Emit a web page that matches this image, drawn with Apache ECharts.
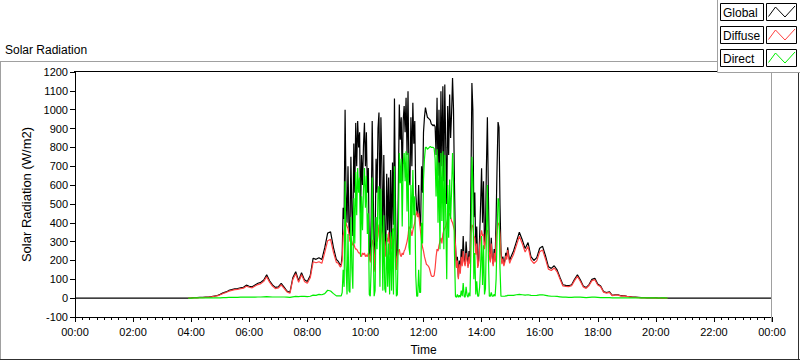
<!DOCTYPE html>
<html><head><meta charset="utf-8">
<script src="https://cdn.jsdelivr.net/npm/echarts@6/dist/echarts.min.js"></script>
<style>html,body{margin:0;padding:0;background:#fff;overflow:hidden;}#c{width:800px;height:361px;}</style>
</head><body><div id="c"></div>
<script>
// ---- night (global only = 0) ----
const nightStartTimes = ["00:00", "03:54"];
const nightStartGlobal = [0, 0];
const nightStartDiffuse = [null, 0];
const nightStartDirect = [null, 0];

// ---- morning, 6-minute samples ----
const morningTimes = ["04:00","04:06","04:12","04:18","04:24","04:30","04:36","04:42","04:48","04:54",
  "05:00","05:06","05:12","05:18","05:24","05:30","05:36","05:42","05:48","05:54",
  "06:00","06:06","06:12","06:18","06:24","06:30","06:36","06:42","06:48","06:54",
  "07:00","07:06","07:12","07:18","07:24","07:30","07:36","07:42","07:48","07:54",
  "08:00","08:06","08:12","08:18","08:24","08:30","08:36","08:42","08:48","08:54","09:00"];
const morningGlobal = [1,3,3,4,4,5,6,8,11,14, 20,28,33,41,45,49,51,55,58,69, 63,60,70,79,84,96,124,92,70,57,
  60,78,58,38,30,108,140,92,135,98, 88,120,212,206,214,205,268,345,352,268,205];
const morningDiffuse = [1,2,2,3,3,4,5,7,10,12, 18,25,30,37,41,45,47,50,53,63, 58,55,64,72,77,89,114,85,64,51,
  54,71,52,33,26,99,130,84,124,89, 79,108,193,188,193,185,243,305,312,243,190];
const morningDirect = [0,1,1,1,1,1,1,1,1,2, 2,3,3,4,4,4,4,5,5,5, 5,5,5,6,6,7,8,7,6,6,
  6,6,6,5,4,7,9,8,10,9, 8,10,16,15,20,18,24,42,38,24,12];

// ---- midday, 2-minute samples (09:04 .. 15:00) ----
const middayTimes = ["09:04","09:06","09:08","09:10","09:12","09:14","09:16","09:18","09:20","09:22",
  "09:24","09:26","09:28","09:30","09:32","09:34","09:36","09:38","09:40","09:42",
  "09:44","09:46","09:48","09:50","09:52","09:54","09:56","09:58","10:00","10:02",
  "10:04","10:06","10:08","10:10","10:12","10:14","10:16","10:18","10:20","10:22",
  "10:24","10:26","10:28","10:30","10:32","10:34","10:36","10:38","10:40","10:42",
  "10:44","10:46","10:48","10:50","10:52","10:54","10:56","10:58","11:00","11:02",
  "11:04","11:06","11:08","11:10","11:12","11:14","11:16","11:18","11:20","11:22",
  "11:24","11:26","11:28","11:30","11:32","11:34","11:36","11:38","11:40","11:42",
  "11:44","11:46","11:48","11:50","11:52","11:54","11:56","11:58","12:00","12:02",
  "12:04","12:06","12:08","12:10","12:12","12:14","12:16","12:18","12:20","12:22",
  "12:24","12:26","12:28","12:30","12:32","12:34","12:36","12:38","12:40","12:42",
  "12:44","12:46","12:48","12:50","12:52","12:54","12:56","12:58","13:00","13:02",
  "13:04","13:06","13:08","13:10","13:12","13:14","13:16","13:18","13:20","13:22",
  "13:24","13:26","13:28","13:30","13:32","13:34","13:36","13:38","13:40","13:42",
  "13:44","13:46","13:48","13:50","13:52","13:54","13:56","13:58","14:00","14:02",
  "14:04","14:06","14:08","14:10","14:12","14:14","14:16","14:18","14:20","14:22",
  "14:24","14:26","14:28","14:30","14:32","14:34","14:36","14:38","14:40","14:42",
  "14:44","14:46","14:48","14:50","14:52","14:54","14:56","14:58","15:00"];
const middayGlobal = [195,185,175,180,230,480,420,1000,560,400,
  700,380,330,750,460,330,820,560,930,700,
  940,800,880,450,760,600,810,930,700,880,
  560,690,250,200,430,940,600,150,300,740,
  560,900,985,420,960,700,300,760,350,250,
  660,360,640,250,680,300,720,390,1060,520,
  160,240,580,1028,840,960,620,940,1019,880,
  1063,760,1098,650,600,960,700,1037,820,940,
  560,470,440,600,430,380,700,560,880,960,
  1011,985,960,955,950,945,925,920,915,920,
  910,760,1063,650,1000,560,1098,700,1124,620,
  1133,800,500,1019,760,1081,850,980,1168,1000,
  600,289,167,220,110,200,140,260,180,330,
  200,180,300,220,170,250,190,600,1141,1000,
  430,560,250,380,170,200,330,500,689,400,
  620,280,350,700,960,560,250,200,320,220,
  180,260,200,420,700,934,906,500,250,190,
  220,180,200,240,220,270,230,200,215];
const middayDiffuse = [185,175,165,170,200,330,360,380,400,380,
  370,340,300,320,300,280,290,270,260,260,
  250,240,240,230,220,240,230,240,220,230,
  220,240,230,190,260,300,310,140,260,310,
  300,330,390,360,380,340,260,320,300,220,
  320,300,350,230,330,260,350,370,360,300,
  150,220,250,260,230,220,240,230,250,260,
  280,300,330,380,370,360,330,360,380,400,
  440,460,430,450,400,350,300,270,250,220,
  200,180,175,170,160,140,120,115,115,120,
  160,220,260,250,280,300,320,290,340,360,
  370,380,400,420,440,450,430,410,400,380,
  360,280,160,200,100,180,130,220,170,250,
  190,170,240,200,160,220,180,350,390,380,
  330,320,230,290,160,190,270,330,360,330,
  340,260,300,360,360,330,240,190,290,210,
  170,240,190,320,370,400,390,340,240,180,
  210,170,190,225,205,255,215,185,200];
const middayDirect = [12,12,12,12,30,150,60,620,170,20,
  340,40,30,430,160,50,530,290,670,440,
  690,560,640,220,540,360,580,690,480,650,
  340,450,20,10,170,640,290,10,40,430,
  260,570,595,60,580,360,40,440,50,30,
  340,60,290,20,350,40,370,20,700,220,
  10,20,330,770,610,740,380,710,770,620,
  780,460,770,270,230,600,370,680,440,540,
  120,10,10,150,30,30,400,290,630,740,
  800,800,790,795,800,805,800,800,800,795,
  740,540,790,400,720,260,770,410,780,260,
  760,420,100,600,320,630,420,570,770,620,
  240,10,5,20,5,15,5,40,10,80,
  10,5,60,15,5,30,10,250,750,620,
  100,240,20,90,10,10,60,170,330,70,
  280,20,50,340,600,230,10,10,30,10,
  10,20,10,100,330,530,510,160,10,10,
  10,10,10,12,12,15,15,15,15];

// ---- afternoon, 6-minute samples ----
const eveningTimes = ["15:06","15:12","15:18","15:24","15:30","15:36","15:42","15:48","15:54",
  "16:00","16:06","16:12","16:18","16:24","16:30","16:36","16:42","16:48","16:54",
  "17:00","17:06","17:12","17:18","17:24","17:30","17:36","17:42","17:48","17:54",
  "18:00","18:06","18:12","18:18","18:24","18:30","18:36","18:42","18:48","18:54",
  "19:00","19:06","19:12","19:18","19:24","19:30","19:36","19:42","19:48","19:54",
  "20:00","20:06","20:12","20:18","20:24"];
const eveningGlobal = [250,300,350,310,263,295,220,200,215,
  265,275,225,167,158,172,150,110,71,68,
  66,71,100,124,97,65,56,72,100,105,
  75,64,35,30,34,15,18,18,13,14,
  10,8,6,5,4,3,3,2,2,1,
  1,0,0,0,0];
const eveningDiffuse = [232,280,328,290,245,275,203,184,198,
  246,255,208,154,147,160,140,102,65,62,
  61,66,93,116,90,60,52,67,93,98,
  70,60,32,27,31,13,16,16,11,12,
  9,7,5,4,3,2,2,2,1,1,
  0,0,0,0,0];
const eveningDirect = [15,18,20,18,16,18,15,14,15,
  17,18,15,12,10,10,9,7,5,5,
  4,4,5,6,5,4,3,4,5,5,
  4,3,3,3,3,2,2,2,2,2,
  1,1,1,1,1,1,1,1,1,1,
  1,0,2,1,0];

// ---- night end ----
const nightEndTimes = ["24:00"];
const nightEndGlobal = [0];

// axis ticks
const yMin = -100, yMax = 1200, yStep = 100;
const xMinMinutes = 0, xMaxMinutes = 1440, xStepMinutes = 120;

function toMin(t) { const p = t.split(":"); return (+p[0]) * 60 + (+p[1]); }
function pairs(ts, vals) {
  const out = [];
  ts.forEach((t, k) => { if (vals[k] !== null && vals[k] !== undefined) out.push([toMin(t), vals[k]]); });
  return out;
}
function pad(n) { return (n < 10 ? "0" : "") + n; }

const globalData = [].concat(
  pairs(nightStartTimes, nightStartGlobal), pairs(morningTimes, morningGlobal),
  pairs(middayTimes, middayGlobal), pairs(eveningTimes, eveningGlobal), pairs(nightEndTimes, nightEndGlobal));
const diffuseData = [].concat(
  pairs(nightStartTimes, nightStartDiffuse), pairs(morningTimes, morningDiffuse),
  pairs(middayTimes, middayDiffuse), pairs(eveningTimes, eveningDiffuse));
const directData = [].concat(
  pairs(nightStartTimes, nightStartDirect), pairs(morningTimes, morningDirect),
  pairs(middayTimes, middayDirect), pairs(eveningTimes, eveningDirect));

const FONT = "Liberation Sans";
const BLACK = "#000000", RED = "#ff4040", GREEN = "#00ee00";

const chart = echarts.init(document.getElementById("c"), null, { renderer: "svg", width: 800, height: 361 });

function legendRow(y, label, color) {
  return [
    { type: "rect", shape: { x: 720.5, y: y + 0.5, width: 43, height: 17 }, style: { fill: "#fff", stroke: "#000", lineWidth: 1 }, z: 20 },
    { type: "text", style: { x: 723, y: y + 9.5, text: label, fontSize: 12, fontFamily: FONT, fill: "#000", textVerticalAlign: "middle" }, z: 21 },
    { type: "rect", shape: { x: 766.5, y: y + 0.5, width: 30, height: 17 }, style: { fill: "#fff", stroke: "#000", lineWidth: 1 }, z: 20 },
    { type: "polyline", shape: { points: [[768.5, y + 13.5], [775.5, y + 4], [785, y + 14], [795, y + 3]] }, style: { stroke: color, lineWidth: 1, fill: null }, z: 21 }
  ];
}

chart.setOption({
  animation: false,
  backgroundColor: "#ffffff",
  textStyle: { fontFamily: FONT },
  grid: { left: 75, top: 72, width: 697, height: 250, containLabel: false },
  xAxis: {
    type: "value", min: xMinMinutes, max: xMaxMinutes, interval: xStepMinutes,
    name: "Time", nameLocation: "middle", nameGap: 27,
    nameTextStyle: { fontSize: 12, color: "#000", fontFamily: FONT },
    axisLine: { show: true, onZero: false, lineStyle: { color: "#000", width: 1 } },
    axisTick: { show: true, inside: false, length: 5, lineStyle: { color: "#000" } },
    minorTick: { show: true, splitNumber: 8, length: 3, lineStyle: { color: "#000" } },
    splitLine: { show: false }, minorSplitLine: { show: false },
    axisLabel: { margin: 9, fontSize: 11, color: "#000", fontFamily: FONT,
      formatter: v => { const m = v % 1440; return pad(Math.floor(m / 60)) + ":" + pad(m % 60); } }
  },
  yAxis: {
    type: "value", min: yMin, max: yMax, interval: yStep,
    name: "Solar Radiation (W/m2)", nameLocation: "middle", nameGap: 32, nameRotate: 90,
    nameTextStyle: { fontSize: 13, color: "#000", fontFamily: FONT },
    axisLine: { show: true, onZero: false, lineStyle: { color: "#000", width: 1 } },
    axisTick: { show: true, inside: false, length: 5, lineStyle: { color: "#000" } },
    splitLine: { show: false },
    axisLabel: { margin: 7, fontSize: 11, color: "#000", fontFamily: FONT, formatter: v => String(v) }
  },
  series: [
    { name: "Global", type: "line", data: globalData, symbol: "none", showSymbol: false, lineStyle: { color: BLACK, width: 1.2 }, itemStyle: { color: BLACK }, clip: true, z: 2 },
    { name: "Diffuse", type: "line", data: diffuseData, symbol: "none", showSymbol: false, lineStyle: { color: RED, width: 1.2 }, itemStyle: { color: RED }, clip: true, z: 3 },
    { name: "Direct", type: "line", data: directData, symbol: "none", showSymbol: false, lineStyle: { color: GREEN, width: 1.2 }, itemStyle: { color: GREEN }, clip: true, z: 4 }
  ],
  graphic: [
    { type: "line", shape: { x1: 0.5, y1: 61.5, x2: 0.5, y2: 359.5 }, style: { stroke: "#a0a0a0", lineWidth: 1 }, z: 10 },
    { type: "line", shape: { x1: 0, y1: 61.5, x2: 718, y2: 61.5 }, style: { stroke: "#a0a0a0", lineWidth: 1 }, z: 10 },
    { type: "line", shape: { x1: 0, y1: 359.5, x2: 800, y2: 359.5 }, style: { stroke: "#303030", lineWidth: 1 }, z: 10 },
    { type: "line", shape: { x1: 798.5, y1: 72, x2: 798.5, y2: 360 }, style: { stroke: "#303030", lineWidth: 1 }, z: 10 },
    { type: "line", shape: { x1: 74, y1: 71.5, x2: 772, y2: 71.5 }, style: { stroke: "#000", lineWidth: 1 }, z: 10 },
    { type: "line", shape: { x1: 771.5, y1: 71, x2: 771.5, y2: 322 }, style: { stroke: "#a0a0a0", lineWidth: 1 }, z: 10 },
    { type: "text", style: { x: 5, y: 50, text: "Solar Radiation", fontSize: 12, fontFamily: FONT, fill: "#000", textVerticalAlign: "middle" }, z: 10 },
    { type: "rect", shape: { x: 717.5, y: -1, width: 84, height: 73.5 }, style: { fill: "#fff", stroke: "#a0a0a0", lineWidth: 1 }, z: 19 }
  ].concat(legendRow(3, "Global", BLACK), legendRow(26, "Diffuse", RED), legendRow(49, "Direct", GREEN))
});
</script></body></html>
